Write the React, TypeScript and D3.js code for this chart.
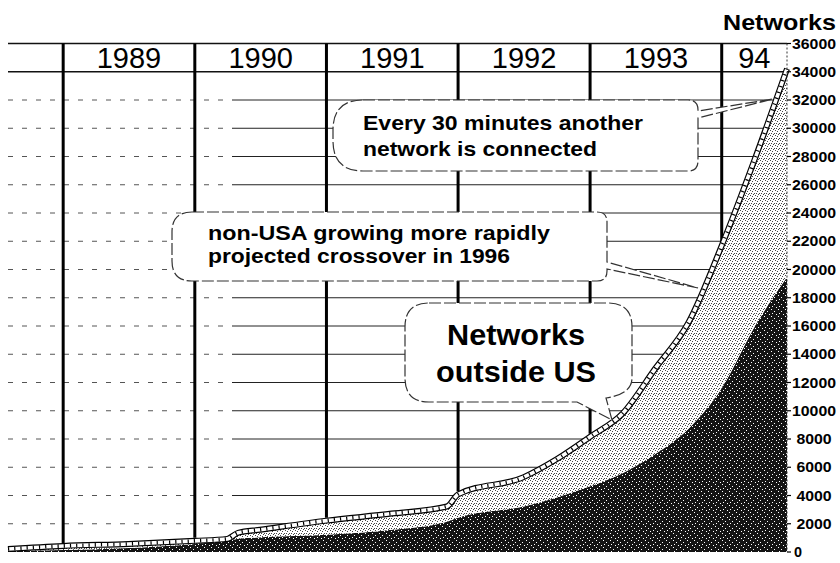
import React, { useEffect, useRef } from "react";
import * as d3 from "d3";

// snapshots: networks connected, US part and non-US part
const months = [
  "1988-08", "1989-01", "1989-07", "1990-01", "1990-04", "1990-05", "1990-07",
  "1991-01", "1991-07", "1991-12", "1992-01", "1992-07", "1992-10", "1993-01",
  "1993-04", "1993-07", "1993-10", "1994-01", "1994-04", "1994-07",
];
const usNetworks = [
  100, 140, 290, 570, 790, 930, 1040, 1220, 1570, 2150, 2430, 3220, 3860, 4650,
  5580, 6940, 8730, 11590, 15890, 19470,
];
const nonUsNetworks = [
  115, 290, 280, 220, 140, 430, 535, 1000, 1150, 1070, 1650, 2080, 2720, 3510,
  4220, 6060, 7520, 10100, 11810, 14740,
];
const yearStarts = [1989, 1990, 1991, 1992, 1993, 1994];
const yearLabels = ["1989", "1990", "1991", "1992", "1993", "94"];
const yTickValues = d3.range(0, 36001, 2000);
const everyNote = ["Every 30 minutes another", "network is connected"];
const crossoverNote = ["non-USA growing more rapidly", "projected crossover in 1996"];
const outsideNote = ["Networks", "outside US"];

const W = 840;
const H = 563;
const FONT = "'Liberation Sans', Arial, sans-serif";

export default function App() {
  const ref = useRef<SVGSVGElement>(null);

  useEffect(() => {
    const svg = d3.select(ref.current);
    svg.selectAll("*").remove();

    const parse = d3.timeParse("%Y-%m");
    const rows = months.map((m, i) => ({
      date: parse(m) as Date,
      us: usNetworks[i],
      nonUs: nonUsNetworks[i],
    }));

    const left = 8;
    const right = 787;
    const x = d3.scaleTime()
      .domain([rows[0].date, rows[rows.length - 1].date])
      .range([left, right]);
    const y = d3.scaleLinear().domain([0, 36000]).range([552, 43.5]);

    //total at any date, linear between snapshots
    const bis = d3.bisector((d: any) => d.date).left;
    const totalAt = (dt: Date) => {
      let i = bis(rows, dt);
      if (i <= 0) return rows[0].us + rows[0].nonUs;
      if (i >= rows.length) i = rows.length - 1;
      const a = rows[i - 1], b = rows[i];
      const t = (+dt - +a.date) / (+b.date - +a.date);
      return (a.us + a.nonUs) * (1 - t) + (b.us + b.nonUs) * t;
    };

    svg.append("rect").attr("width", W).attr("height", H).attr("fill", "#fff");

    // stipple patterns like the photocopy
    const defs = svg.append("defs");
    const dark = defs.append("pattern").attr("id", "darkDots")
      .attr("width", 7).attr("height", 7).attr("patternUnits", "userSpaceOnUse");
    dark.append("rect").attr("width", 7).attr("height", 7).attr("fill", "#141414");
    [[1, 1], [4, 3], [2, 5], [6, 6]].forEach(([px, py]) =>
      dark.append("rect").attr("x", px).attr("y", py).attr("width", 1).attr("height", 1).attr("fill", "#fff"));
    const light = defs.append("pattern").attr("id", "lightDots")
      .attr("width", 5).attr("height", 5).attr("patternUnits", "userSpaceOnUse");
    light.append("rect").attr("width", 5).attr("height", 5).attr("fill", "#fff");
    [[0, 0], [2, 1], [4, 3], [1, 3], [3, 4]].forEach(([px, py]) =>
      light.append("rect").attr("x", px).attr("y", py).attr("width", 1).attr("height", 1).attr("fill", "#444"));

    // horizontal grid, faint on the left like the scan
    const grid = svg.append("g");
    yTickValues.filter(v => v > 0 && v < 34000).forEach(v => {
      grid.append("line")
        .attr("x1", left).attr("x2", 232).attr("y1", y(v)).attr("y2", y(v))
        .attr("stroke", "#555").attr("stroke-width", 1).attr("stroke-dasharray", "5,9");
      grid.append("line")
        .attr("x1", 232).attr("x2", right).attr("y1", y(v)).attr("y2", y(v))
        .attr("stroke", "#222").attr("stroke-width", 1);
    });
    [34000, 36000].forEach(v => {
      grid.append("line")
        .attr("x1", left).attr("x2", right).attr("y1", y(v)).attr("y2", y(v))
        .attr("stroke", "#111").attr("stroke-width", 1.5);
    });

    // stacked areas
    const series = d3.stack<any>().keys(["us", "nonUs"])(rows as any);
    const area = d3.area<any>()
      .x(d => x(d.data.date))
      .y0(d => y(d[0]))
      .y1(d => y(d[1]))
      .curve(d3.curveMonotoneX);
    svg.append("g").selectAll("path")
      .data(series)
      .enter()
      .append("path")
      .attr("d", area as any)
      .attr("fill", (d: any) => d.key === "us" ? "url(#darkDots)" : "url(#lightDots)");

    // year dividers stop on the total line
    yearStarts.forEach(yr => {
      const dt = new Date(yr, 0, 1);
      svg.append("line")
        .attr("x1", x(dt)).attr("x2", x(dt))
        .attr("y1", y(36000)).attr("y2", y(totalAt(dt)) - 3)
        .attr("stroke", "#000").attr("stroke-width", 3);
    });

    // total line drawn as a ladder band
    const totalLine = d3.line<any>()
      .x(d => x(d.date))
      .y(d => y(d.us + d.nonUs))
      .curve(d3.curveMonotoneX);
    const band = svg.append("g").attr("fill", "none");
    band.append("path").attr("d", totalLine(rows) as string)
      .attr("stroke", "#000").attr("stroke-width", 6);
    band.append("path").attr("d", totalLine(rows) as string)
      .attr("stroke", "#fff").attr("stroke-width", 3.6);
    band.append("path").attr("d", totalLine(rows) as string)
      .attr("stroke", "#000").attr("stroke-width", 3.6).attr("stroke-dasharray", "1.2,5");

    // year labels in the header row
    yearStarts.forEach((yr, i) => {
      const a = x(new Date(yr, 0, 1));
      const b = i < yearStarts.length - 1 ? x(new Date(yearStarts[i + 1], 0, 1)) : right;
      svg.append("text")
        .attr("x", (a + b) / 2).attr("y", 68)
        .attr("text-anchor", "middle")
        .style("font-family", FONT).style("font-size", "29px")
        .text(yearLabels[i]);
    });

    // right axis
    svg.append("line")
      .attr("x1", right).attr("x2", right).attr("y1", y(36000)).attr("y2", y(0))
      .attr("stroke", "#333").attr("stroke-width", 1).attr("stroke-dasharray", "2,2");
    const axis = svg.append("g");
    yTickValues.forEach(v => {
      axis.append("line")
        .attr("x1", right).attr("x2", right + 4).attr("y1", y(v)).attr("y2", y(v))
        .attr("stroke", "#000").attr("stroke-width", 1.2);
      const label = String(v);
      const t = axis.append("text")
        .attr("y", y(v) + 5)
        .attr("lengthAdjust", "spacingAndGlyphs")
        .style("font-family", FONT).style("font-size", "15px").style("font-weight", "bold")
        .text(label);
      if (v === 0) t.attr("x", 794).attr("textLength", 8);
      else t.attr("x", 814).attr("text-anchor", "middle").attr("textLength", label.length * 8.8);
    });

    svg.append("text")
      .attr("x", 723).attr("y", 30)
      .attr("textLength", 113).attr("lengthAdjust", "spacingAndGlyphs")
      .style("font-family", FONT).style("font-size", "22px").style("font-weight", "bold")
      .text("Networks");

    // callouts
    const bubbleStyle = (p: any) => p
      .attr("fill", "#fff").attr("stroke", "#333").attr("stroke-width", 1.2)
      .attr("stroke-dasharray", "12,3");

    // right-side tail
    const rightBubble = (x0: number, y0: number, x1: number, y1: number, rl: number, rr: number,
      ta: number, tb: number, tx: number, ty: number) =>
      `M${x0 + rl},${y0} H${x1 - rr} Q${x1},${y0} ${x1},${y0 + rr} V${ta} L${tx},${ty} L${x1},${tb}` +
      ` V${y1 - rr} Q${x1},${y1} ${x1 - rr},${y1} H${x0 + rl} Q${x0},${y1} ${x0},${y1 - rl}` +
      ` V${y0 + rl} Q${x0},${y0} ${x0 + rl},${y0} Z`;

    svg.append("path")
      .attr("d", rightBubble(333, 100, 698, 171, 30, 10, 111, 118, 773, 99))
      .call(bubbleStyle);
    svg.append("path")
      .attr("d", rightBubble(172, 212, 607, 281, 20, 10, 262, 269, 698, 288))
      .call(bubbleStyle);
    svg.append("path")
      .attr("d", "M429,303 H608 Q632,303 632,327 V378 Q632,394 606,398 L612,420 L577,402 H429" +
        " Q405,402 405,378 V327 Q405,303 429,303 Z")
      .call(bubbleStyle);

    const note = (lines: string[], xs: number, ys: number[], size: number, widths: number[], anchor = "start") => {
      lines.forEach((s, i) => {
        svg.append("text")
          .attr("x", xs).attr("y", ys[i])
          .attr("text-anchor", anchor)
          .attr("textLength", widths[i]).attr("lengthAdjust", "spacingAndGlyphs")
          .style("font-family", FONT).style("font-size", size + "px").style("font-weight", "bold")
          .text(s);
      });
    };
    note(everyNote, 363, [130, 156], 21, [280, 234]);
    note(crossoverNote, 208, [240, 263], 20, [342, 302]);
    note(outsideNote, 516, [345, 382], 30, [138, 160], "middle");
  }, []);

  return (
    <svg ref={ref} width={W} height={H}
      style={{ position: "absolute", left: 0, top: 0, background: "#fff" }} />
  );
}
